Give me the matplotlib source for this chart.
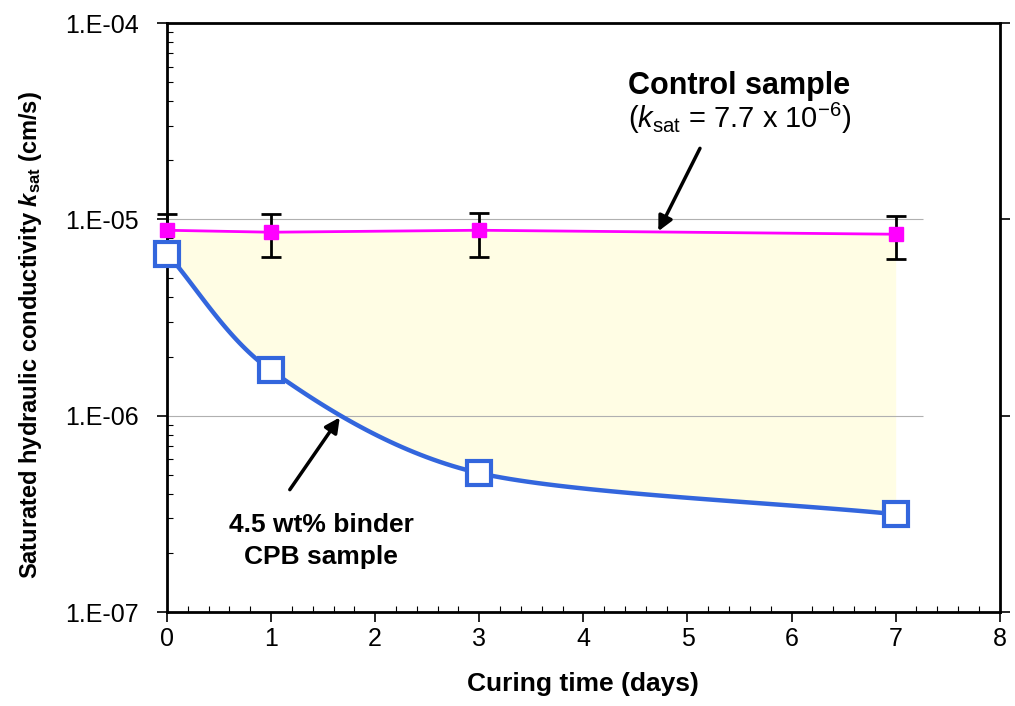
import matplotlib.pyplot as plt
import numpy as np
from matplotlib.ticker import FixedLocator, NullFormatter, MultipleLocator

plt.rcParams['font.family'] = ['Liberation Sans', 'DejaVu Sans']
plt.rcParams['mathtext.fontset'] = 'custom'
plt.rcParams['mathtext.rm'] = 'Liberation Sans'
plt.rcParams['mathtext.it'] = 'Liberation Sans:italic'
plt.rcParams['mathtext.bf'] = 'Liberation Sans:bold'
plt.rcParams['mathtext.bfit'] = 'Liberation Sans:italic:bold'

# data
days = [0, 1, 3, 7]
control = [8.8e-6, 8.6e-6, 8.8e-6, 8.4e-6]
control_hi = [10.7e-6, 10.6e-6, 10.8e-6, 10.4e-6]
control_lo = [6.4e-6, 6.4e-6, 6.4e-6, 6.3e-6]
cpb = [6.7e-6, 1.70e-6, 5.1e-7, 3.15e-7]

ytick_vals = [1e-7, 1e-6, 1e-5, 1e-4]
ytick_labels = ['1.E-07', '1.E-06', '1.E-05', '1.E-04']


def smooth(x, y, n=40, k=0.85):
    # Catmull-Rom style smoothing in log space (like a spreadsheet "smoothed line")
    x = np.asarray(x, float)
    ly = np.log10(y)
    px = np.concatenate([[2 * x[0] - x[1]], x, [2 * x[-1] - x[-2]]])
    py = np.concatenate([[2 * ly[0] - ly[1]], ly, [2 * ly[-1] - ly[-2]]])
    xs, ys = [], []
    for i in range(1, len(px) - 2):
        t = np.linspace(0, 1, n)
        for arr, out in ((px, xs), (py, ys)):
            p0, p1, p2, p3 = arr[i - 1], arr[i], arr[i + 1], arr[i + 2]
            m1 = (p2 - p0) / 2 * k
            m2 = (p3 - p1) / 2 * k
            h00 = 2 * t**3 - 3 * t**2 + 1
            h10 = t**3 - 2 * t**2 + t
            h01 = -2 * t**3 + 3 * t**2
            h11 = t**3 - t**2
            out.extend(h00 * p1 + h10 * m1 + h01 * p2 + h11 * m2)
    return np.array(xs), 10 ** np.array(ys)


fig = plt.figure(figsize=(10.15, 7.06), dpi=100)
ax = fig.add_axes([0.1645, 0.1331, 0.8205, 0.8343])
ax.set_yscale('log')
ax.set_xlim(0, 8)
ax.set_ylim(1e-7, 1e-4)

sx, sy = smooth(days, cpb)
ctrl_interp = 10 ** np.interp(sx, days, np.log10(control))
ax.fill_between(sx, sy, ctrl_interp, color='#fffde4', lw=0, zorder=1)

ax.hlines([1e-5, 1e-6], 0, 7.26, colors='#b0b0b0', lw=0.8, zorder=1.5)

yerr = [np.array(control) - np.array(control_lo), np.array(control_hi) - np.array(control)]
ax.errorbar(days, control, yerr=yerr, fmt='none', ecolor='black', elinewidth=2,
            capsize=7, capthick=2, zorder=2.5, clip_on=False)
ax.plot(days, control, color='#ff00ff', lw=2, marker='s', ms=9.5,
        mfc='#ff00ff', mec='#ff00ff', zorder=3, clip_on=False)

ax.plot(sx, sy, color='#3366dd', lw=3.2, zorder=4)
ax.plot(days, cpb, ls='none', marker='s', ms=17, mfc='white', mec='#3366dd',
        mew=3, zorder=5, clip_on=False)

ax.yaxis.set_major_locator(FixedLocator(ytick_vals))
ax.set_yticklabels(ytick_labels)
ax.yaxis.set_minor_formatter(NullFormatter())
ax.xaxis.set_major_locator(MultipleLocator(1))
ax.xaxis.set_minor_locator(MultipleLocator(0.2))
ax.tick_params(which='major', direction='out', length=7, width=1.2, labelsize=18)
ax.tick_params(axis='x', which='major', pad=4)
ax.tick_params(axis='y', which='major', pad=13, right=True)
ax.tick_params(which='minor', direction='in', length=4, width=0.8)
for s in ax.spines.values():
    s.set_linewidth(2)

ax.set_xlabel('Curing time (days)', fontsize=19, fontweight='bold', labelpad=15)
ax.set_ylabel(r'Saturated hydraulic conductivity $\mathbfit{k}_{\mathbf{sat}}$ (cm/s)',
              fontsize=17, fontweight='bold')
ax.yaxis.set_label_coords(-0.148, 0.47)

ax.text(5.5, 4.8e-5, 'Control sample', fontsize=22, fontweight='bold', ha='center', va='center')
ax.text(5.5, 3.25e-5, r'($k_{\mathrm{sat}}$ = 7.7 x 10$^{-6}$)', fontsize=21, ha='center', va='center')
ax.annotate('', xy=(4.72, 8.7e-6), xytext=(5.12, 2.3e-5),
            arrowprops=dict(arrowstyle='-|>', color='black', lw=2.5, mutation_scale=22,
                            shrinkA=0, shrinkB=0))

ax.text(1.48, 2.3e-7, '4.5 wt% binder\nCPB sample', fontsize=19, fontweight='bold',
        ha='center', va='center', linespacing=1.4)
ax.annotate('', xy=(1.66, 9.8e-7), xytext=(1.18, 4.2e-7),
            arrowprops=dict(arrowstyle='-|>', color='black', lw=2.5, mutation_scale=22,
                            shrinkA=0, shrinkB=0))

fig.savefig('out.png', dpi=100)
